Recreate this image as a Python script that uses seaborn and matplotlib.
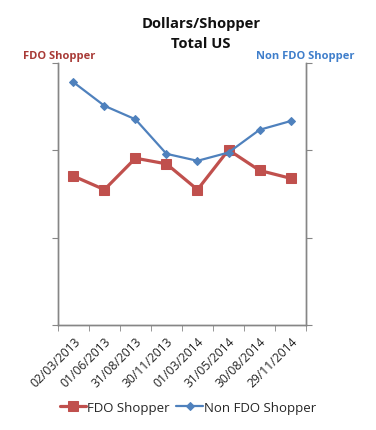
import numpy as np
import pandas as pd
import matplotlib
matplotlib.use("Agg")
import matplotlib.pyplot as plt
import seaborn as sns

# Data (y axes carry no labels, values in $)
dates = ["02/03/2013", "01/06/2013", "31/08/2013", "30/11/2013",
         "01/03/2014", "31/05/2014", "30/08/2014", "29/11/2014"]
fdo_shopper = [34.1, 31.0, 38.2, 36.9, 31.0, 40.1, 35.4, 33.6]
non_fdo_shopper = [55.6, 50.2, 47.1, 39.2, 37.6, 39.5, 44.7, 46.7]
y_ticks = [0, 20, 40, 60]

RED = "#C0504D"
BLUE = "#4F81BD"
GRAY = "#868686"


def main():
    sns.set_style("white")
    plt.rcParams["font.family"] = ["Open Sans", "DejaVu Sans"]

    df = pd.DataFrame({"date": dates, "fdo": fdo_shopper, "non_fdo": non_fdo_shopper})

    fig = plt.figure(figsize=(3.76, 4.31), dpi=100)
    ax = fig.add_axes([0.154, 0.2436, 0.660, 0.6079])
    ax2 = ax.twinx()

    sns.lineplot(data=df, x="date", y="fdo", ax=ax, color=RED, linewidth=2.3,
                 marker="s", markersize=7.5, markeredgecolor=RED, label="FDO Shopper",
                 legend=False, zorder=3)
    sns.lineplot(data=df, x="date", y="non_fdo", ax=ax2, color=BLUE, linewidth=1.6,
                 marker="D", markersize=4.5, markeredgecolor=BLUE, label="Non FDO Shopper",
                 legend=False, zorder=3)

    n = len(dates)
    for a in (ax, ax2):
        a.set_ylim(y_ticks[0], y_ticks[-1])
        a.set_yticks(y_ticks)
        a.set_yticklabels([])
        a.set_xlim(-0.5, n - 0.5)
        a.set_xlabel("")
        a.set_ylabel("")
        for s in a.spines.values():
            s.set_color(GRAY)
            s.set_linewidth(1.0)
        a.spines["top"].set_visible(False)

    ax.tick_params(axis="y", direction="out", length=4, color=GRAY, left=True)
    ax2.tick_params(axis="y", direction="out", length=4, color=GRAY, right=True)

    # category ticks sit on boundaries, labels at the centers
    ax.set_xticks(np.arange(n))
    ax.set_xticklabels(dates, rotation=45, ha="right", rotation_mode="anchor",
                       fontsize=8.7, color="#222222")
    ax.tick_params(axis="x", which="major", length=0, pad=7)
    ax.set_xticks(np.arange(n + 1) - 0.5, minor=True)
    ax.tick_params(axis="x", which="minor", direction="out", length=4, color=GRAY, bottom=True)

    fig.text(0.535, 0.945, "Dollars/Shopper", ha="center", va="center",
             fontsize=10.6, fontweight="bold", color="#111111")
    fig.text(0.535, 0.897, "Total US", ha="center", va="center",
             fontsize=10.6, fontweight="bold", color="#111111")
    fig.text(0.157, 0.868, "FDO Shopper", ha="center", va="center",
             fontsize=8, fontweight="bold", color="#A83A36")
    fig.text(0.812, 0.868, "Non FDO Shopper", ha="center", va="center",
             fontsize=8, fontweight="bold", color="#3F7ECB")

    h1, l1 = ax.get_legend_handles_labels()
    h2, l2 = ax2.get_legend_handles_labels()
    fig.legend(h1 + h2, l1 + l2, loc="center", bbox_to_anchor=(0.5, 0.053), ncol=2,
               frameon=False, fontsize=9.5, handlelength=2.0, handletextpad=0.1,
               columnspacing=0.5)

    fig.savefig("out.png", dpi=100)


if __name__ == "__main__":
    main()
